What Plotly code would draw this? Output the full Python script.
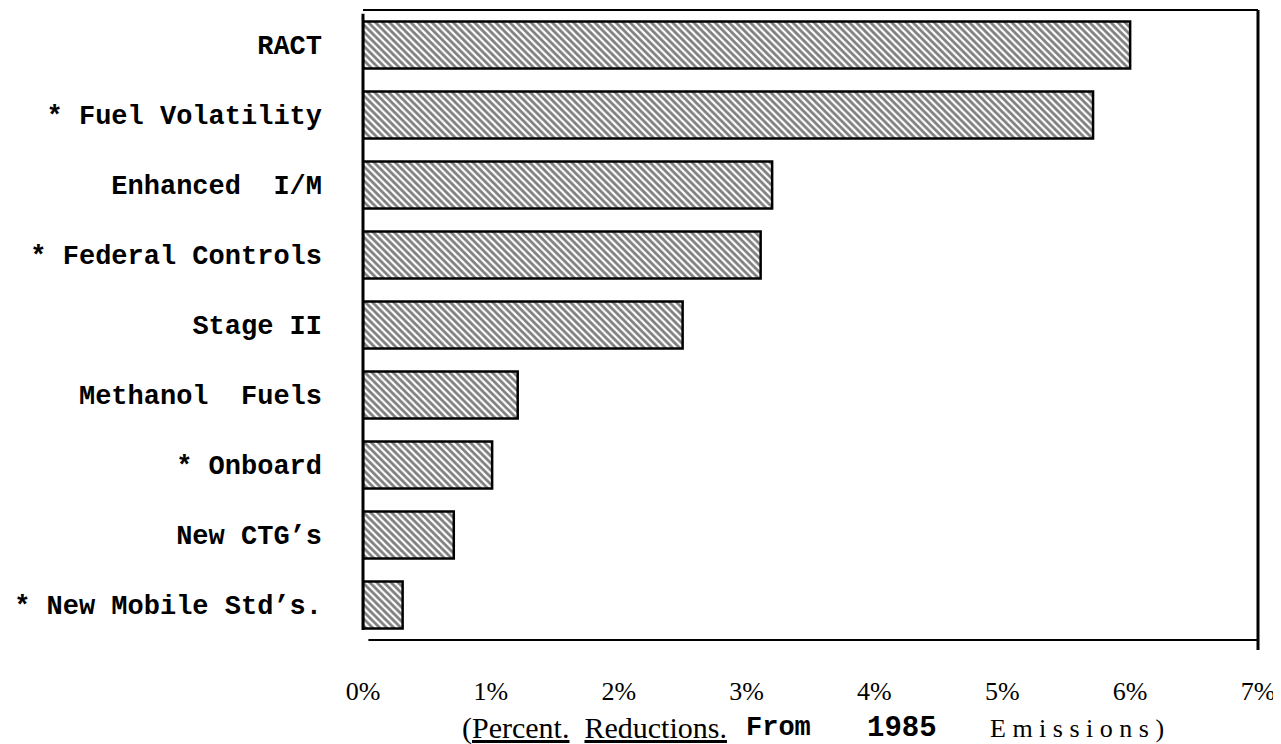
"""
plot.py
Percent reductions from 1985 emissions, hatched horizontal bars.
"""

import plotly.graph_objects as go

# ──────────────────────────────────────────────────────────────
# DATA
# ──────────────────────────────────────────────────────────────
measures = [
    "RACT",
    "* Fuel Volatility",
    "Enhanced  I/M",
    "* Federal Controls",
    "Stage II",
    "Methanol  Fuels",
    "* Onboard",
    "New CTG\u2019s",
    "* New Mobile Std\u2019s.",
]
reductions = [6.0, 5.71, 3.2, 3.11, 2.5, 1.21, 1.01, 0.71, 0.31]
tick_vals = [0, 1, 2, 3, 4, 5, 6, 7]
tick_text = ["0%", "1%", "2%", "3%", "4%", "5%", "6%", "7%"]

# ──────────────────────────────────────────────────────────────
# STYLE
# ──────────────────────────────────────────────────────────────
C_INK = "#000000"
MONO = "Liberation Mono, Courier New, monospace"
SERIF = "Liberation Serif, Times New Roman, serif"

# page body has an 8px margin, so the figure is 16px smaller than the window
W, H = 1273, 736
L, T = 355, 2
PW, PH = 895, 630

fig = go.Figure(go.Bar(
    x=reductions,
    y=measures,
    orientation="h",
    width=0.67,
    marker={
        "color": "white",
        "line": {"color": C_INK, "width": 2.5},
        "pattern": {"shape": "\\", "fgcolor": C_INK, "bgcolor": "white",
                    "size": 5, "solidity": 0.55},
    },
    hoverinfo="x+y",
))

# frame drawn by hand: the sides have different weights in the original
frame = [
    dict(x0=0, x1=1, y0=1, y1=1, width=2),          # top
    dict(x0=0, x1=0, y0=0.016, y1=0.994, width=3),  # left
    dict(x0=0.006, x1=1, y0=0, y1=0, width=2),      # bottom
    dict(x0=1, x1=1, y0=-0.016, y1=1, width=3),     # right
]
for f in frame:
    fig.add_shape(type="line", xref="paper", yref="paper",
                  x0=f["x0"], x1=f["x1"], y0=f["y0"], y1=f["y1"],
                  line={"color": C_INK, "width": f["width"]})

# axis title in mixed type faces, like the typed original
title_parts = [
    ("(<u>Percent.</u>  <u>Reductions.</u>", SERIF, 30, 594),
    ("<b>From</b>", MONO, 27, 778),
    ("<b>1985</b>", MONO, 29, 902),
    ("E m i s s i o n s )", SERIF, 26, 1077),
]
for text, family, size, xpix in title_parts:
    fig.add_annotation(
        text=text, xref="paper", yref="paper",
        x=(xpix - 363) / PW, y=-(728 - 640) / PH,
        xanchor="center", yanchor="middle", showarrow=False,
        font={"family": family, "size": size, "color": C_INK},
    )

fig.update_layout(
    width=W,
    height=H,
    margin=dict(l=L, r=W - L - PW, t=T, b=H - T - PH),
    paper_bgcolor="white",
    plot_bgcolor="white",
    showlegend=False,
    bargap=0.33,
    xaxis={
        "range": [0, 7],
        "tickvals": tick_vals,
        "ticktext": tick_text,
        "showgrid": False,
        "zeroline": False,
        "showline": False,
        "ticks": "",
        "ticklabelstandoff": 33,
        "tickfont": {"family": SERIF, "size": 26, "color": C_INK},
        "fixedrange": True,
    },
    yaxis={
        "autorange": "reversed",
        "showgrid": False,
        "zeroline": False,
        "showline": False,
        "ticks": "",
        "ticklabelstandoff": 40,
        "tickfont": {"family": MONO, "size": 27, "color": C_INK,
                     "weight": "bold"},
        "fixedrange": True,
    },
    font={"color": C_INK},
)

fig.write_html("out.html")
